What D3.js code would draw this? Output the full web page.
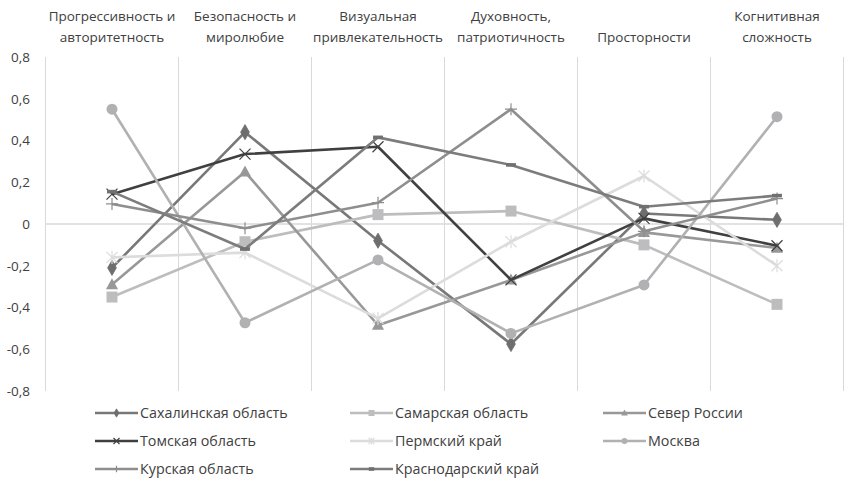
<!DOCTYPE html>
<html>
<head>
<meta charset="utf-8">
<script src="https://cdn.jsdelivr.net/npm/d3@7"></script>
<style>
  html, body { margin: 0; padding: 0; background: #fff; }
  svg { display: block; font-family: "Open Sans", "Noto Sans", sans-serif; }
</style>
</head>
<body>
<svg id="chart" width="845" height="483"></svg>
<script>
// Axis categories (each label split into its display lines)
const categoryLines = [
  ["Прогрессивность и", "авторитетность"],
  ["Безопасность и", "миролюбие"],
  ["Визуальная", "привлекательность"],
  ["Духовность,", "патриотичность"],
  ["Просторности"],
  ["Когнитивная", "сложность"]
];
const categories = categoryLines.map(l => l.join(" "));

// Y axis ticks
const yTicks = [-0.8, -0.6, -0.4, -0.2, 0, 0.2, 0.4, 0.6, 0.8];

// Series values, one per category
const sakhalin   = [-0.21, 0.44, -0.08, -0.575, 0.05, 0.02];
const samara     = [-0.35, -0.085, 0.045, 0.062, -0.10, -0.385];
const north      = [-0.29, 0.25, -0.485, -0.268, -0.04, -0.115];
const tomsk      = [0.143, 0.335, 0.37, -0.268, 0.027, -0.104];
const perm       = [-0.16, -0.137, -0.452, -0.085, 0.23, -0.20];
const moscow     = [0.55, -0.473, -0.172, -0.524, -0.292, 0.514];
const kursk      = [0.096, -0.02, 0.102, 0.55, -0.035, 0.122];
const krasnodar  = [0.155, -0.12, 0.415, 0.283, 0.083, 0.136];

const seriesNames = ["Сахалинская область", "Самарская область", "Север России",
  "Томская область", "Пермский край", "Москва", "Курская область", "Краснодарский край"];

const series = [
  { name: seriesNames[0], values: sakhalin,  color: "#787878", marker: "diamond" },
  { name: seriesNames[1], values: samara,    color: "#bdbdbf", marker: "square" },
  { name: seriesNames[2], values: north,     color: "#989898", marker: "triangle" },
  { name: seriesNames[3], values: tomsk,     color: "#404040", marker: "x" },
  { name: seriesNames[4], values: perm,      color: "#dcdcdc", marker: "star" },
  { name: seriesNames[5], values: moscow,    color: "#b1b1b3", marker: "circle" },
  { name: seriesNames[6], values: kursk,     color: "#8e8e8e", marker: "plus" },
  { name: seriesNames[7], values: krasnodar, color: "#7c7c7c", marker: "dash" }
];

const svg = d3.select("#chart");
const plot = { left: 45.5, right: 843.5, top: 57, bottom: 391 };

const x = d3.scaleBand().domain(categories).range([plot.left, plot.right]);
const y = d3.scaleLinear().domain([-0.8, 0.8]).range([plot.bottom, plot.top]);
const cx = c => x(c) + x.bandwidth() / 2;

// Vertical gridlines at category boundaries
const bounds = categories.map(c => x(c)).concat([x(categories[categories.length - 1]) + x.bandwidth()]);
svg.append("g").selectAll("line").data(bounds).join("line")
  .attr("x1", d => d).attr("x2", d => d)
  .attr("y1", plot.top).attr("y2", plot.bottom)
  .attr("stroke", "#d9d9d9").attr("stroke-width", 1);

// Zero line
svg.append("line")
  .attr("x1", plot.left).attr("x2", plot.right)
  .attr("y1", y(0)).attr("y2", y(0))
  .attr("stroke", "#d9d9d9").attr("stroke-width", 1.5);

// Y axis labels
const yAxis = d3.axisLeft(y).tickValues(yTicks).tickSize(0).tickPadding(0)
  .tickFormat(v => v === 0 ? "0" : v.toFixed(1).replace(".", ",").replace("−", "-"));
const yg = svg.append("g").attr("transform", `translate(${30},0)`).call(yAxis);
yg.select(".domain").remove();
yg.selectAll("text").attr("font-size", 13.5).attr("fill", "#404040")
  .attr("font-family", "Open Sans, Noto Sans, sans-serif");

// Category labels on top, bottom-aligned
const catG = svg.append("g");
categoryLines.forEach((lines, i) => {
  const t = catG.append("text")
    .attr("x", cx(categories[i]))
    .attr("text-anchor", "middle")
    .attr("font-size", 13.5)
    .attr("fill", "#404040");
  lines.forEach((ln, j) => {
    const baseline = 42 - (lines.length - 1 - j) * 21;
    t.append("tspan").attr("x", cx(categories[i])).attr("y", baseline).text(ln);
  });
});

// Marker drawing
function drawMarker(g, type, color, size) {
  const s = size;
  switch (type) {
    case "diamond":
      g.append("path").attr("d", d3.symbol(d3.symbolDiamond, s * s * 0.55)())
        .attr("fill", "#6e6e6e").attr("stroke", "#6e6e6e").attr("stroke-width", 0.8);
      break;
    case "square":
      g.append("rect").attr("x", -s / 2).attr("y", -s / 2).attr("width", s).attr("height", s)
        .attr("fill", color);
      break;
    case "triangle":
      g.append("path").attr("d", `M0,${-s * 0.58}L${s * 0.55},${s * 0.42}L${-s * 0.55},${s * 0.42}Z`)
        .attr("fill", color);
      break;
    case "circle":
      g.append("circle").attr("r", s / 2).attr("fill", color);
      break;
    case "x":
      g.append("path").attr("d", `M${-s/2},${-s/2}L${s/2},${s/2}M${-s/2},${s/2}L${s/2},${-s/2}`)
        .attr("stroke", color).attr("stroke-width", 1.2).attr("fill", "none");
      break;
    case "star":
      g.append("path").attr("d", `M${-s/2},${-s/2}L${s/2},${s/2}M${-s/2},${s/2}L${s/2},${-s/2}M0,${-s*0.6}L0,${s*0.6}`)
        .attr("stroke", color).attr("stroke-width", 1.2).attr("fill", "none");
      break;
    case "plus":
      g.append("path").attr("d", `M${-s*0.55},0L${s*0.55},0M0,${-s*0.55}L0,${s*0.55}`)
        .attr("stroke", color).attr("stroke-width", 1.2).attr("fill", "none");
      break;
    case "dash":
      g.append("rect").attr("x", -s * 0.45).attr("y", -1.8).attr("width", s * 0.9).attr("height", 3.6)
        .attr("fill", "#707070");
      break;
  }
}

// Lines and markers
const line = d3.line().x(d => cx(d.c)).y(d => y(d.v));
series.forEach(s => {
  const pts = s.values.map((v, i) => ({ c: categories[i], v }));
  const g = svg.append("g");
  g.append("path").datum(pts).attr("d", line)
    .attr("fill", "none").attr("stroke", s.color).attr("stroke-width", 2.6)
    .attr("stroke-linejoin", "round");
  g.selectAll("g.m").data(pts).join("g").attr("class", "m")
    .attr("transform", d => `translate(${cx(d.c)},${y(d.v)})`)
    .each(function () { drawMarker(d3.select(this), s.marker, s.color, 11); });
});

// Legend: three columns, rows filled left to right
const legendCols = [95, 350, 603];
const legendRows = [413, 441, 469];
series.forEach((s, i) => {
  const lx = legendCols[i % 3], ly = legendRows[Math.floor(i / 3)];
  const g = svg.append("g").attr("transform", `translate(${lx},${ly})`);
  g.append("line").attr("x1", 0).attr("x2", 43).attr("y1", 0).attr("y2", 0)
    .attr("stroke", s.color).attr("stroke-width", 2.6);
  const mg = g.append("g").attr("transform", "translate(21.5,0)");
  drawMarker(mg, s.marker, s.color, 6);
  g.append("text").attr("x", 45).attr("y", 0).attr("dy", "0.35em")
    .attr("font-size", 14.3).attr("fill", "#404040").text(s.name);
});
</script>
</body>
</html>
